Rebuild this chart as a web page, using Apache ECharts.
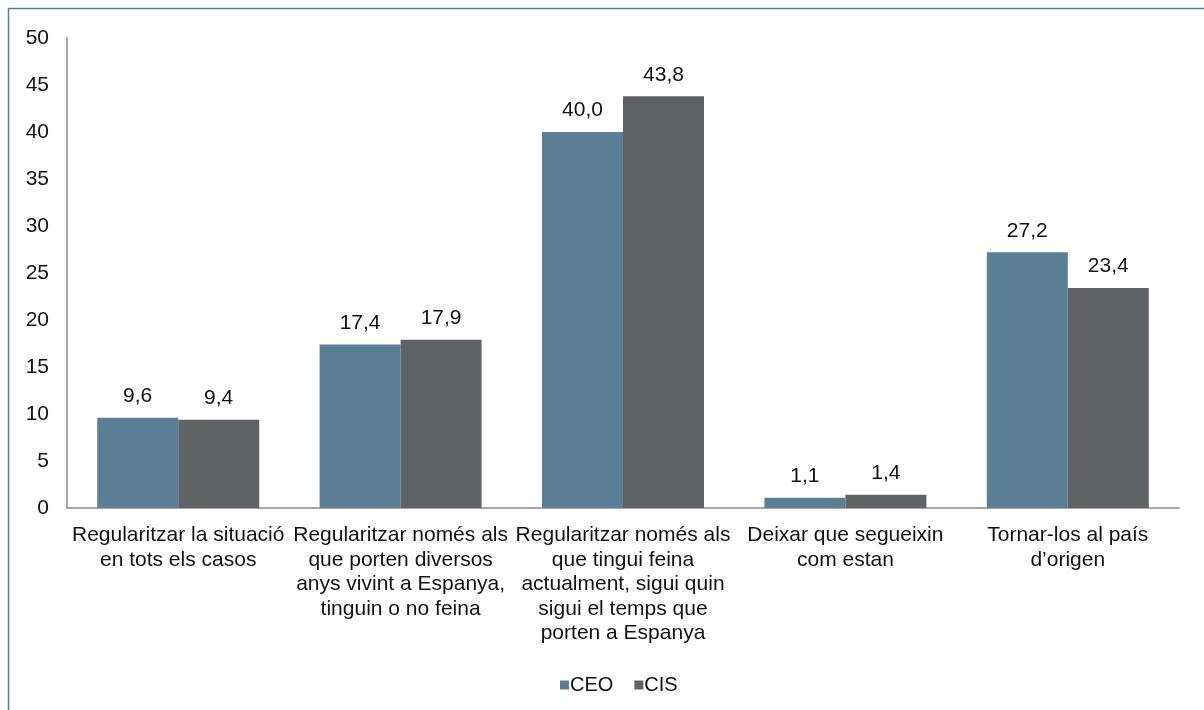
<!DOCTYPE html>
<html>
<head>
<meta charset="utf-8">
<title>Regularització</title>
<script src="https://cdn.jsdelivr.net/npm/echarts@6/dist/echarts.min.js"></script>
<style>
  html, body { margin: 0; padding: 0; background: #fff; }
  #chartDiv { width: 1204px; height: 710px; }
</style>
</head>
<body>
<div id="chartDiv"></div>
<script>
// categories on the x axis (line breaks as in the original)
var categories = [
    'Regularitzar la situació\nen tots els casos',
    'Regularitzar només als\nque porten diversos\nanys vivint a Espanya,\ntinguin o no feina',
    'Regularitzar només als\nque tingui feina\nactualment, sigui quin\nsigui el temps que\nporten a Espanya',
    'Deixar que segueixin\ncom estan',
    'Tornar-los al país\nd’origen'
];
var seriesNames = ['CEO', 'CIS'];
var valuesCEO = [9.6, 17.4, 40.0, 1.1, 27.2];
var valuesCIS = [9.4, 17.9, 43.8, 1.4, 23.4];

var chartDiv = echarts.init(document.getElementById('chartDiv'));
var fontName = 'Liberation Sans, Arial, sans-serif';
var fontSize = 21;

// labels use the comma as decimal separator
function fmtLabel(p) {
    return p.value.toFixed(1).replace('.', ',');
}

function makeSeries(name, data, colour) {
    return {
        name: name,
        type: 'bar',
        data: data,
        barWidth: 81,
        barGap: '0%',
        itemStyle: { color: colour },
        label: {
            show: true,
            position: 'top',
            distance: 11,
            formatter: fmtLabel,
            color: '#111',
            fontSize: fontSize,
            fontFamily: fontName
        }
    };
}

var option = {
    animation: false,
    backgroundColor: '#fff',
    textStyle: { fontFamily: fontName },
    graphic: [
        {
            // frame of the original picture (only top and left edge are visible)
            type: 'rect',
            shape: { x: 8.5, y: 8.5, width: 1400, height: 900 },
            style: { fill: null, stroke: '#5b7f94', lineWidth: 1.5 },
            silent: true
        }
    ],
    grid: {
        left: 67,
        right: 25,
        top: 38,
        bottom: 202,
        containLabel: false
    },
    legend: {
        data: seriesNames,
        left: 555,
        top: 670,
        itemWidth: 9,
        itemHeight: 9,
        itemGap: 21,
        icon: 'rect',
        textStyle: { fontSize: 20, color: '#111', fontFamily: fontName, padding: [0, 0, 0, -4] }
    },
    xAxis: {
        type: 'category',
        data: categories,
        axisLine: { show: true, lineStyle: { color: '#a6a6a6', width: 2 } },
        axisTick: { show: false },
        axisLabel: {
            interval: 0,
            margin: 15,
            fontSize: fontSize,
            lineHeight: 24.5,
            color: '#111',
            fontFamily: fontName,
            align: 'center'
        },
        splitLine: { show: false }
    },
    yAxis: {
        type: 'value',
        min: 0,
        max: 50,
        interval: 5,
        axisLine: { show: true, lineStyle: { color: '#a6a6a6', width: 2 } },
        axisTick: { show: false },
        axisLabel: {
            margin: 18,
            fontSize: fontSize,
            color: '#111',
            fontFamily: fontName
        },
        splitLine: { show: false }
    },
    series: [
        makeSeries(seriesNames[0], valuesCEO, '#5b7f94'),
        makeSeries(seriesNames[1], valuesCIS, '#606364')
    ]
};

chartDiv.setOption(option);
</script>
</body>
</html>
